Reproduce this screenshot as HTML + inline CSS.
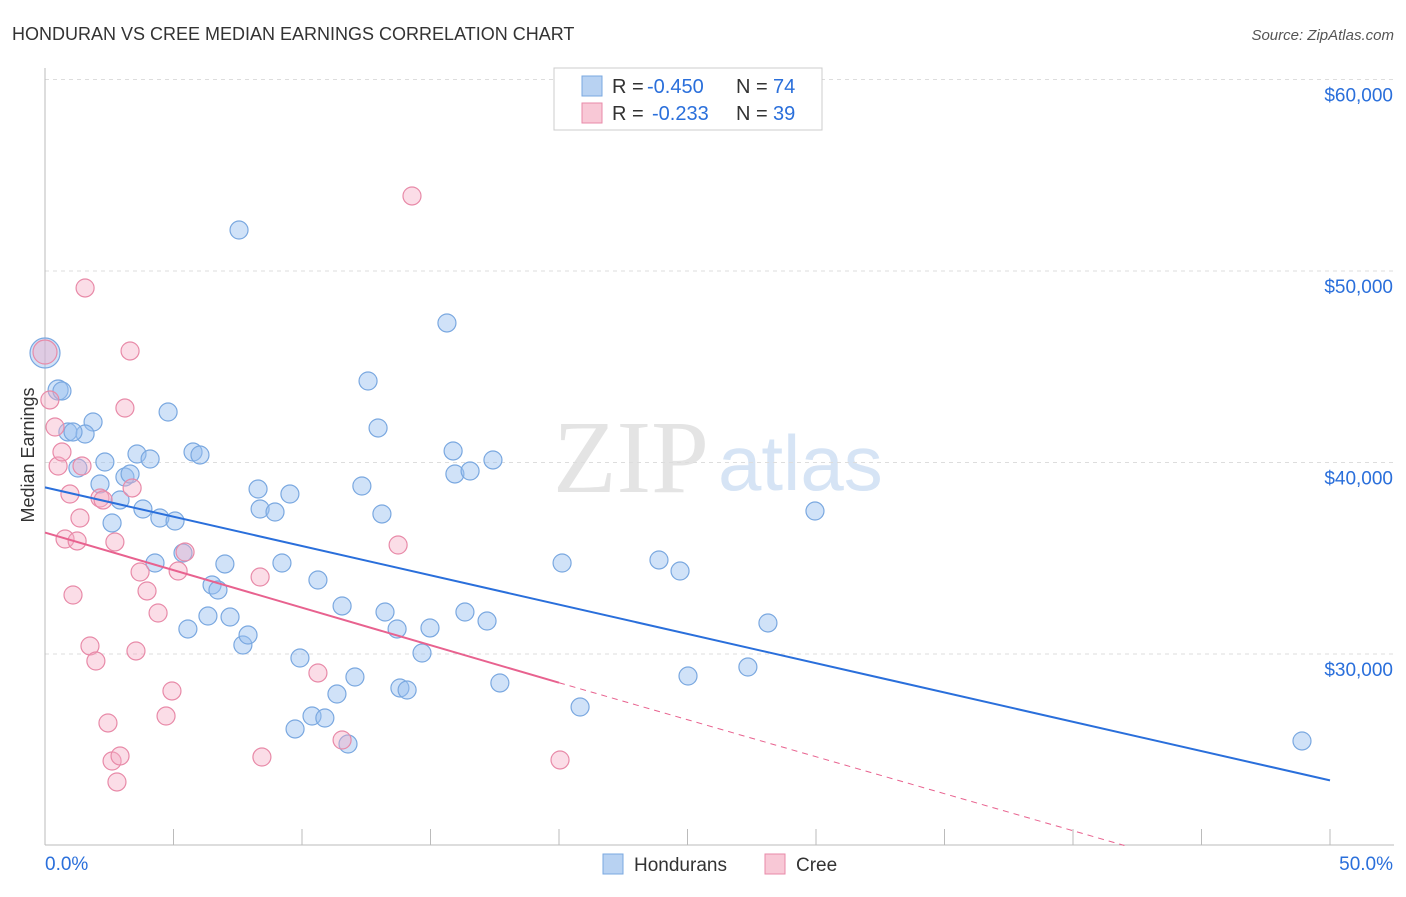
<!DOCTYPE html>
<html><head><meta charset="utf-8"><style>
body{margin:0;background:#fff;font-family:"Liberation Sans",sans-serif}
</style></head><body>
<svg id="c" width="1406" height="892" xmlns="http://www.w3.org/2000/svg" font-family="Liberation Sans, sans-serif">
<text x="12" y="40" font-size="18" fill="#333">HONDURAN VS CREE MEDIAN EARNINGS CORRELATION CHART</text>
<text x="1394" y="40" font-size="15" fill="#555" text-anchor="end" font-style="italic">Source: ZipAtlas.com</text>
<text x="553" y="492" font-size="104" fill="#e4e4e4" font-family="Liberation Serif, serif">ZIP</text>
<text x="718" y="490" font-size="78" fill="#d6e4f5">atlas</text>
<text x="34" y="455" font-size="18" fill="#333" text-anchor="middle" transform="rotate(-90 34 455)">Median Earnings</text>
<g id="grid"></g><g id="axes"></g><g id="pts"></g><g id="lines"></g>
<g>
<rect x="554" y="68" width="268" height="62" fill="#fff" stroke="#ccc"/>
<rect x="582" y="76" width="20" height="20" fill="#b8d2f2" stroke="#7aa8e0"/>
<rect x="582" y="103" width="20" height="20" fill="#f8c8d6" stroke="#e88aa8"/>
<text x="612" y="93" font-size="20" fill="#333">R =</text>
<text x="647" y="93" font-size="20" fill="#2a6fdb">-0.450</text>
<text x="736" y="93" font-size="20" fill="#333">N =</text>
<text x="773" y="93" font-size="20" fill="#2a6fdb">74</text>
<text x="612" y="120" font-size="20" fill="#333">R =</text>
<text x="652" y="120" font-size="20" fill="#2a6fdb">-0.233</text>
<text x="736" y="120" font-size="20" fill="#333">N =</text>
<text x="773" y="120" font-size="20" fill="#2a6fdb">39</text>
</g>
<g>
<rect x="603" y="854" width="20" height="20" fill="#b8d2f2" stroke="#7aa8e0"/>
<text x="634" y="871" font-size="19" fill="#333">Hondurans</text>
<rect x="765" y="854" width="20" height="20" fill="#f8c8d6" stroke="#e88aa8"/>
<text x="796" y="871" font-size="19" fill="#333">Cree</text>
</g>
</svg>
<script>
const yTicks=[30000,40000,50000,60000];
const yTickLabels=["$30,000","$40,000","$50,000","$60,000"];
const xTickLabels=["0.0%","50.0%"];
const bluePx=[[45,353],[58,390],[93,422],[68,432],[85,434],[73,432],[78,468],[105,462],[100,484],[112,523],[120,500],[125,477],[130,474],[137,454],[150,459],[143,509],[160,518],[175,521],[168,412],[193,452],[200,455],[183,553],[155,563],[188,629],[208,616],[212,585],[218,590],[225,564],[230,617],[243,645],[248,635],[239,230],[258,489],[260,509],[275,512],[290,494],[282,563],[318,580],[300,658],[295,729],[312,716],[325,718],[337,694],[348,744],[342,606],[355,677],[362,486],[368,381],[378,428],[382,514],[385,612],[397,629],[400,688],[407,690],[422,653],[430,628],[447,323],[453,451],[455,474],[470,471],[465,612],[487,621],[493,460],[500,683],[562,563],[580,707],[659,560],[680,571],[688,676],[748,667],[768,623],[815,511],[1302,741],[62,391]];
const pinkPx=[[45,352],[50,400],[55,427],[58,466],[62,452],[70,494],[65,539],[77,541],[80,518],[73,595],[85,288],[100,498],[103,500],[115,542],[125,408],[130,351],[132,488],[140,572],[147,591],[158,613],[178,571],[185,552],[90,646],[96,661],[136,651],[172,691],[166,716],[108,723],[112,761],[120,756],[117,782],[260,577],[262,757],[318,673],[342,740],[398,545],[412,196],[560,760],[82,466]];
const honduranX=bluePx.map(p=>+((p[0]-45)/25.7).toFixed(2));
const honduranY=bluePx.map(p=>Math.round(30000+(654-p[1])*52.22));
const creeX=pinkPx.map(p=>+((p[0]-45)/25.7).toFixed(2));
const creeY=pinkPx.map(p=>Math.round(30000+(654-p[1])*52.22));
const blueTrend=[[0,38700],[50,23400]];
const pinkTrend=[[0,36340],[20,28500],[42,20000]];
const X=v=>45+v*25.7, Y=v=>654-(v-30000)/52.22;
const NS="http://www.w3.org/2000/svg";
function mk(t,a,parent){const e=document.createElementNS(NS,t);for(const k in a)e.setAttribute(k,a[k]);document.getElementById(parent).appendChild(e);return e;}
yTicks.forEach((t,i)=>{
 const l=mk('line',{x1:45,x2:1394,y1:Y(t),y2:Y(t),stroke:'#ddd','stroke-dasharray':'4 4'},'grid');
 
 
 const tx=mk('text',{x:1393,y:Y(t)+22,'font-size':19,fill:'#2a6fdb','text-anchor':'end'},'grid');
 tx.textContent=yTickLabels[i];
 
 
});
const ax=mk('line',{x1:45,x2:1394,y1:845,y2:845,stroke:'#bbb'},'axes');


const ay=mk('line',{x1:45,x2:45,y1:68,y2:845,stroke:'#bbb'},'axes');


for(let i=0;i<=10;i++){const t=mk('line',{x1:X(i*5),x2:X(i*5),y1:829,y2:845,stroke:'#bbb'},'axes');
 
 }
[[0,'start',45],[50,'end',1393]].forEach((d,i)=>{const t=mk('text',{x:d[2],y:870,'font-size':19,fill:'#2a6fdb','text-anchor':d[1]},'axes');t.textContent=xTickLabels[i];
 
 });
honduranX.forEach((x,i)=>{const r=i==0?15:(i==1?10:9);
 const c=mk('circle',{cx:X(x),cy:Y(honduranY[i]),r:r,fill:'rgba(150,190,240,0.45)',stroke:'#7aa8e0','stroke-width':1.2},'pts');
 
 });
creeX.forEach((x,i)=>{const r=i==0?12:9;
 const c=mk('circle',{cx:X(x),cy:Y(creeY[i]),r:r,fill:'rgba(244,170,195,0.4)',stroke:'#e88aa8','stroke-width':1.2},'pts');
 
 });
const bl=mk('line',{x1:X(blueTrend[0][0]),y1:Y(blueTrend[0][1]),x2:X(blueTrend[1][0]),y2:Y(blueTrend[1][1]),stroke:'#2a6fdb','stroke-width':2},'lines');


const pl=mk('line',{x1:X(pinkTrend[0][0]),y1:Y(pinkTrend[0][1]),x2:X(pinkTrend[1][0]),y2:Y(pinkTrend[1][1]),stroke:'#e8628f','stroke-width':2},'lines');


const pd=mk('line',{x1:X(pinkTrend[1][0]),y1:Y(pinkTrend[1][1]),x2:X(pinkTrend[2][0]),y2:Y(pinkTrend[2][1]),stroke:'#e8628f','stroke-width':1,'stroke-dasharray':'6 5'},'lines');


const topLine=mk('line',{x1:45,x2:1394,y1:Y(60000),y2:Y(60000),stroke:'#ddd','stroke-dasharray':'4 4'},'grid');


</script>
</body></html>
